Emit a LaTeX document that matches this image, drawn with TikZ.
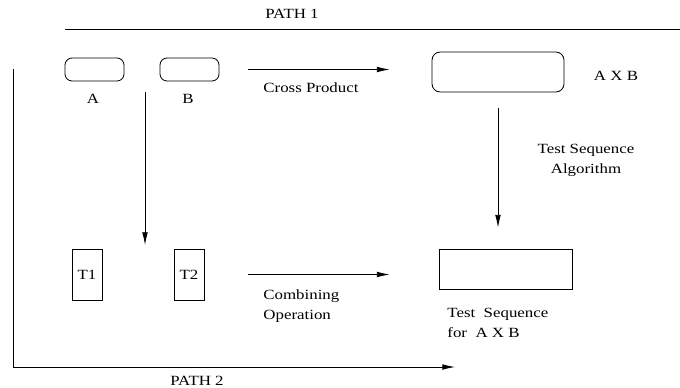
\documentclass[tikz,border=0pt]{standalone}
\usepackage{fontspec}
\setmainfont[FakeStretch=1.2]{Liberation Serif}
\usetikzlibrary{arrows.meta, positioning}

\begin{document}
\begin{tikzpicture}[
      x=0.03cm, y=-0.03cm,
      every node/.style={font=\fontsize{12}{17}\selectfont, inner sep=1pt},
      setbox/.style={draw, line width=0.7pt, rounded corners=6pt, minimum width=1.77cm, minimum height=0.69cm},
      prodbox/.style={draw, line width=0.7pt, rounded corners=7pt, minimum width=3.96cm, minimum height=1.2cm},
      seqbox/.style={draw, line width=0.7pt, minimum width=0.9cm, minimum height=1.53cm},
      testbox/.style={draw, line width=0.7pt, minimum width=3.99cm, minimum height=1.2cm},
      arr/.style={-{Latex[length=3.8mm, width=1.7mm]}, line width=0.7pt},
      plain/.style={line width=0.7pt},
      lbl/.style={align=left, anchor=west}
    ]
    \useasboundingbox (0,0) rectangle (680,387);
    % the two sets and their product
    \node[setbox] (a) at (94.5,69.5) {};
    \node[setbox] (b) at (189.5,69.5) {};
    \node[prodbox] (axb) at (498,72) {};
    \node (alabel) at (93,99) {A};
    \node (blabel) at (188,99) {B};
    \node (axblabel) at (616,76) {A X B};
    % test sequences
    \node[seqbox] (t1) at (87,274.5) {T1};
    \node[seqbox] (t2) at (189,274.5) {T2};
    \node[testbox] (ts) at (505.5,269) {};
    % path 1
    \coordinate (p1start) at (65,29);
    \coordinate (p1end) at (680,29);
    \draw[plain] (p1start) -- (p1end);
    \node (path1) at (292,14) {PATH 1};
    \draw[arr, shorten <=0.87cm, shorten >=1.26cm] (b.east) -- (b.east -| axb.west);
    \node[lbl] (cross) at (262,88) {Cross Product};
    \draw[arr, shorten <=0.48cm, shorten >=0.63cm] (axb.south) -- (axb.south |- ts.north);
    \node[align=center] (tsalg) at (586,160) {Test Sequence\\Algorithm};
    % path 2
    \coordinate (p2start) at (13,69);
    \coordinate (p2end) at (455,367);
    \draw[arr] (p2start) |- (p2end);
    \node (path2) at (197,381) {PATH 2};
    \coordinate (downtop) at (145,92);
    \coordinate (downend) at (145,245);
    \draw[arr] (downtop) -- (downend);
    \draw[arr, shorten <=1.32cm, shorten >=1.47cm] (t2.east) -- (t2.east -| ts.west);
    \node[lbl] (comb) at (262,306) {Combining\\Operation};
    \node[lbl] (tslabel) at (446,323) {Test\ \ Sequence\\for\ \ A X B};
  \end{tikzpicture}
\end{document}
